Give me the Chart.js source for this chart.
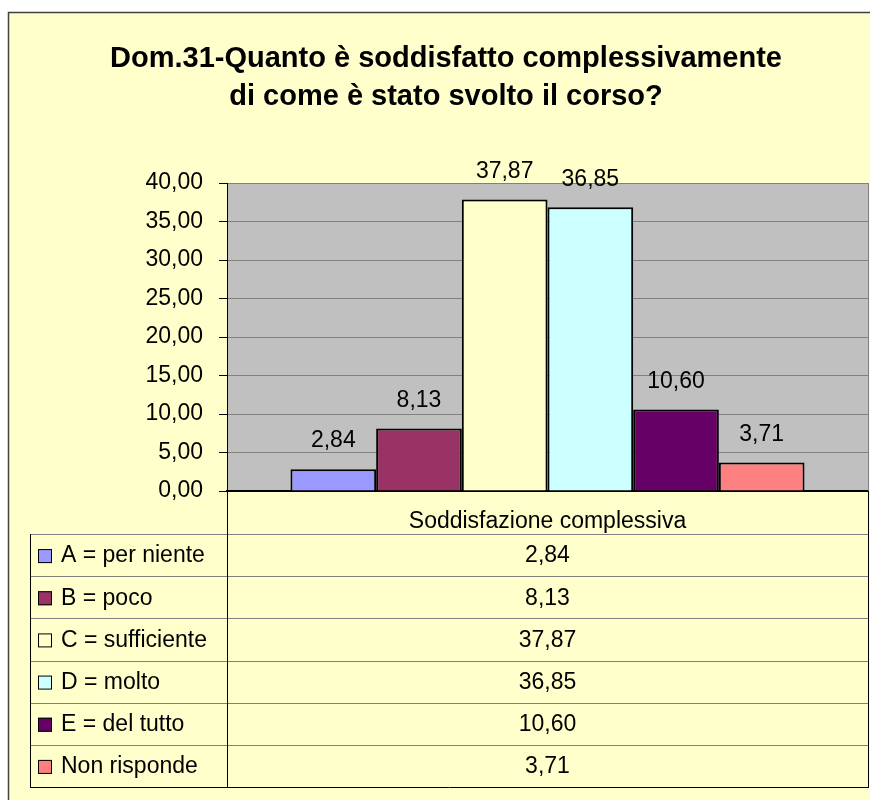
<!DOCTYPE html>
<html>
<head>
<meta charset="utf-8">
<script src="https://cdn.jsdelivr.net/npm/chart.js@4/dist/chart.umd.min.js"></script>
<style>
  html, body { margin: 0; padding: 0; background: #fff; }
  #wrap { width: 870px; height: 800px; }
</style>
</head>
<body>
<div id="wrap"><canvas id="chart" width="870" height="800"></canvas></div>
<script>
// data
const titleLines = ['Dom.31-Quanto è soddisfatto complessivamente', 'di come è stato svolto il corso?'];
const categories = ['Soddisfazione complessiva'];
const seriesNames = ['A = per niente', 'B = poco', 'C = sufficiente', 'D = molto', 'E = del tutto', 'Non risponde'];
const seriesValues = [2.84, 8.13, 37.87, 36.85, 10.60, 3.71];
const seriesColors = ['#9999FF', '#993366', '#FFFFCC', '#CCFFFF', '#660066', '#FF8080'];
const yTicks = [0, 5, 10, 15, 20, 25, 30, 35, 40];

const FONT = '"Liberation Sans", Arial, sans-serif';
const fmt = v => v.toFixed(2).replace('.', ',');

// background, frame, plot area fill
const frame = {
  id: 'frame',
  beforeDraw(chart) {
    const { ctx, chartArea: a } = chart;
    ctx.save();
    ctx.fillStyle = '#ffffff';
    ctx.fillRect(0, 0, chart.width, chart.height);
    ctx.fillStyle = '#FFFFCC';
    ctx.fillRect(8, 12, chart.width, chart.height);
    ctx.strokeStyle = '#404040';
    ctx.lineWidth = 1.5;
    ctx.strokeRect(8.5, 12.5, chart.width + 10, chart.height + 10);
    ctx.fillStyle = '#C0C0C0';
    ctx.fillRect(a.left, a.top, a.right - a.left, a.bottom - a.top);
    ctx.restore();
  }
};

// value labels over bars
const barLabels = {
  id: 'barLabels',
  afterDatasetsDraw(chart) {
    const { ctx } = chart;
    ctx.save();
    ctx.font = '23px ' + FONT;
    ctx.fillStyle = '#000';
    ctx.textAlign = 'center';
    ctx.textBaseline = 'middle';
    chart.data.datasets.forEach((ds, i) => {
      const bar = chart.getDatasetMeta(i).data[0];
      ctx.fillText(fmt(ds.data[0]), bar.x, bar.y - 28);
    });
    ctx.restore();
  }
};

// title + data table under the axis
const extras = {
  id: 'extras',
  afterDraw(chart) {
    const { ctx, chartArea: a } = chart;
    ctx.save();
    // right edge of plot area
    ctx.strokeStyle = '#808080';
    ctx.lineWidth = 1;
    ctx.beginPath();
    ctx.moveTo(a.right + 0.5, a.top);
    ctx.lineTo(a.right + 0.5, a.bottom);
    ctx.stroke();

    ctx.fillStyle = '#000';
    ctx.textAlign = 'center';
    ctx.textBaseline = 'alphabetic';
    ctx.font = 'bold 29px ' + FONT;
    ctx.fillText(titleLines[0], 446, 67);
    ctx.fillText(titleLines[1], 446, 105);

    const tTop = 534, tBottom = 787, tLeft = 30;
    const rowH = (tBottom - tTop) / seriesNames.length;
    const midX = (a.left + a.right) / 2;

    // horizontal rules
    ctx.strokeStyle = '#808080';
    for (let i = 0; i < seriesNames.length; i++) {
      const y = Math.round(tTop + i * rowH) + 0.5;
      ctx.beginPath();
      ctx.moveTo(tLeft, y);
      ctx.lineTo(a.right, y);
      ctx.stroke();
    }
    ctx.strokeStyle = '#000';
    ctx.beginPath();
    ctx.moveTo(tLeft, tBottom + 0.5);
    ctx.lineTo(a.right + 1, tBottom + 0.5);
    ctx.stroke();
    // verticals
    ctx.beginPath();
    ctx.moveTo(tLeft + 0.5, tTop);
    ctx.lineTo(tLeft + 0.5, tBottom);
    ctx.moveTo(a.left + 0.5, a.bottom);
    ctx.lineTo(a.left + 0.5, tBottom);
    ctx.moveTo(a.right + 0.5, a.bottom);
    ctx.lineTo(a.right + 0.5, tBottom);
    ctx.stroke();

    ctx.font = '23px ' + FONT;
    ctx.textBaseline = 'middle';
    seriesNames.forEach((name, i) => {
      const cy = tTop + i * rowH + rowH / 2 + 1;
      ctx.fillStyle = seriesColors[i];
      ctx.fillRect(38, cy - 7, 14, 14);
      ctx.strokeStyle = '#000';
      ctx.strokeRect(38.5, cy - 6.5, 13, 13);
      ctx.fillStyle = '#000';
      ctx.textAlign = 'left';
      ctx.fillText(name, 61, cy);
      ctx.textAlign = 'center';
      ctx.fillText(fmt(seriesValues[i]), midX, cy);
    });
    ctx.restore();
  }
};

const datasets = seriesNames.map((name, i) => ({
  label: name,
  data: [seriesValues[i]],
  backgroundColor: seriesColors[i],
  borderColor: '#000',
  borderWidth: 2,
  borderSkipped: 'bottom',
  categoryPercentage: 0.802,
  barPercentage: 1
}));

new Chart(document.getElementById('chart'), {
  type: 'bar',
  data: { labels: categories, datasets },
  plugins: [frame, barLabels, extras],
  options: {
    responsive: false,
    animation: false,
    devicePixelRatio: 1,
    layout: { padding: { left: 0, right: 2, top: 183, bottom: 800 - 534 } },
    plugins: { legend: { display: false }, tooltip: { enabled: false } },
    scales: {
      x: {
        afterFit(scale) { scale.height = 43; },
        grid: { display: false },
        border: { color: '#000', width: 2 },
        ticks: { color: '#000', padding: 9, font: { family: FONT, size: 23 } }
      },
      y: {
        min: 0,
        max: 40,
        afterFit(scale) { scale.width = 227; },
        afterBuildTicks(scale) { scale.ticks = yTicks.map(v => ({ value: v })); },
        grid: { color: '#808080', tickLength: 8, tickColor: '#000' },
        border: { color: '#000', width: 1 },
        ticks: { color: '#000', padding: 16, font: { family: FONT, size: 23 }, callback: v => fmt(v) }
      }
    }
  }
});
</script>
</body>
</html>
